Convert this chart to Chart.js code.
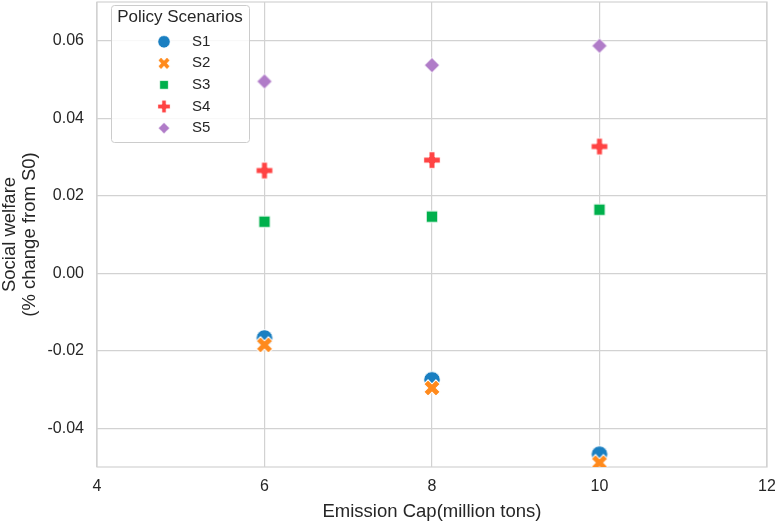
<!DOCTYPE html>
<html>
<head>
<meta charset="utf-8">
<script src="https://cdn.jsdelivr.net/npm/chart.js@4.4.0/dist/chart.umd.min.js"></script>
<style>
  html, body { margin: 0; padding: 0; background: #fff; }
  #wrap { width: 775px; height: 521px; }
</style>
</head>
<body>
<div id="wrap"><canvas id="welfarechart"></canvas></div>
<script>
const emissionCaps = [6, 8, 10];
const scenarioNames = ["S1", "S2", "S3", "S4", "S5"];
const s1 = [-0.0167, -0.0275, -0.0467];
const s2 = [-0.0185, -0.0296, -0.0489];
const s3 = [0.0133, 0.0146, 0.0164];
const s4 = [0.0265, 0.0292, 0.0327];
const s5 = [0.0495, 0.0537, 0.0587];
const xTicks = [4, 6, 8, 10, 12];
const yTicks = [-0.04, -0.02, 0, 0.02, 0.04, 0.06];

const textColor = "#262626";
const gridColor = "#d2d2d2";
const fontFamily = "'Liberation Sans', Arial, sans-serif";

// filled seaborn-like markers with a white edge
function marker(kind, color) {
  const size = 24;
  const c = document.createElement("canvas");
  c.width = size;
  c.height = size;
  const ctx = c.getContext("2d");
  ctx.translate(size / 2, size / 2);
  ctx.beginPath();
  if (kind === "circle") {
    ctx.arc(0, 0, 8.3, 0, Math.PI * 2);
  } else if (kind === "square") {
    ctx.rect(-5.8, -5.8, 11.6, 11.6);
  } else if (kind === "diamond") {
    ctx.moveTo(0, -7.6);
    ctx.lineTo(7.6, 0);
    ctx.lineTo(0, 7.6);
    ctx.lineTo(-7.6, 0);
    ctx.closePath();
  } else {
    if (kind === "x") ctx.rotate(Math.PI / 4);
    const a = kind === "x" ? 8.6 : 8.3, t = 3;
    const pts = [[-t, -a], [t, -a], [t, -t], [a, -t], [a, t], [t, t],
                 [t, a], [-t, a], [-t, t], [-a, t], [-a, -t], [-t, -t]];
    pts.forEach((p, i) => (i ? ctx.lineTo(p[0], p[1]) : ctx.moveTo(p[0], p[1])));
    ctx.closePath();
  }
  ctx.fillStyle = color;
  ctx.fill();
  ctx.strokeStyle = "#ffffff";
  ctx.lineWidth = 1;
  ctx.stroke();
  return c;
}

const series = [s1, s2, s3, s4, s5];
const styles = [
  marker("circle", "#1a7fc1"),
  marker("x", "#ff8a1c"),
  marker("square", "#00b04c"),
  marker("plus", "#ff4343"),
  marker("diamond", "#b07cc8"),
];

const frame = {
  id: "frame",
  beforeDatasetsDraw(chart) {
    const { ctx, chartArea: a } = chart;
    ctx.save();
    ctx.strokeStyle = gridColor;
    ctx.lineWidth = 1.2;
    ctx.strokeRect(a.left, a.top, a.right - a.left, a.bottom - a.top);
    ctx.restore();
  },
};

const legendBox = {
  id: "legendBox",
  afterDraw(chart) {
    const ctx = chart.ctx, area = chart.chartArea;
    const x0 = area.left + 14, y0 = area.top + 3, w = 138, h = 137;
    ctx.save();
    ctx.fillStyle = "rgba(255,255,255,0.85)";
    ctx.strokeStyle = "#cccccc";
    ctx.lineWidth = 1;
    ctx.beginPath();
    ctx.roundRect(x0 + 0.5, y0 + 0.5, w, h, 3);
    ctx.fill();
    ctx.stroke();
    ctx.fillStyle = textColor;
    ctx.textBaseline = "middle";
    ctx.textAlign = "center";
    ctx.font = "17px " + fontFamily;
    ctx.fillText("Policy Scenarios", x0 + w / 2, y0 + 12);
    ctx.textAlign = "left";
    ctx.font = "15px " + fontFamily;
    chart.data.datasets.forEach((ds, i) => {
      const y = y0 + 36.7 + i * 21.6;
      const img = ds.pointStyle, s = 0.75;
      ctx.drawImage(img, x0 + 53 - (img.width * s) / 2, y - (img.height * s) / 2, img.width * s, img.height * s);
      ctx.fillText(ds.label, x0 + 81, y);
    });
    ctx.restore();
  },
};

function noOverhang(axis) {
  axis.paddingTop = 0;
  axis.paddingBottom = 0;
  axis.paddingLeft = 0;
  axis.paddingRight = 0;
}

new Chart(document.getElementById("welfarechart"), {
  type: "scatter",
  data: {
    datasets: scenarioNames.map((name, i) => ({
      label: name,
      data: emissionCaps.map((x, j) => ({ x: x, y: series[i][j] })),
      pointStyle: styles[i],
      pointRadius: 8,
      pointHoverRadius: 8,
      order: scenarioNames.length - i,
    })),
  },
  options: {
    responsive: true,
    maintainAspectRatio: false,
    animation: false,
    events: [],
    layout: { autoPadding: false, padding: { left: 0, right: 8, top: 2, bottom: 0 } },
    scales: {
      x: {
        type: "linear",
        min: 4,
        max: 12,
        afterBuildTicks: (axis) => { axis.ticks = xTicks.map((v) => ({ value: v })); },
        afterFit: (axis) => { axis.height = 54; noOverhang(axis); },
        grid: { color: gridColor, lineWidth: 1.2, drawTicks: false },
        border: { display: false },
        ticks: { padding: 10, color: textColor, font: { family: fontFamily, size: 16 } },
        title: {
          display: true,
          text: "Emission Cap(million tons)",
          color: textColor,
          font: { family: fontFamily, size: 18.5, lineHeight: 1 },
          padding: 0,
        },
      },
      y: {
        min: -0.05,
        max: 0.07,
        afterBuildTicks: (axis) => { axis.ticks = yTicks.map((v) => ({ value: v })); },
        afterFit: (axis) => { axis.width = 97; noOverhang(axis); },
        grid: { color: gridColor, lineWidth: 1.2, drawTicks: false },
        border: { display: false },
        ticks: {
          padding: 13,
          color: textColor,
          font: { family: fontFamily, size: 16 },
          callback: (v) => v.toFixed(2),
        },
        title: {
          display: true,
          text: ["Social welfare", "(% change from S0)"],
          color: textColor,
          font: { family: fontFamily, size: 18.5, lineHeight: 1.08 },
          padding: 0,
        },
      },
    },
    plugins: {
      legend: { display: false },
      tooltip: { enabled: false },
    },
  },
  plugins: [frame, legendBox],
});
</script>
</body>
</html>
